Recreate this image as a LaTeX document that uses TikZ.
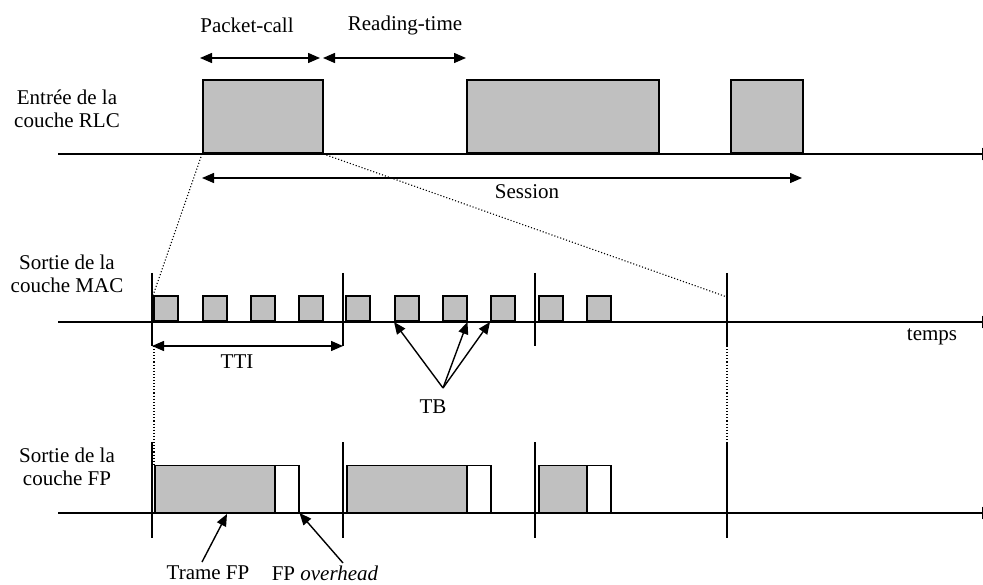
\documentclass[tikz,border=0pt]{standalone}
\usepackage{fontspec}
\setmainfont{Liberation Serif}
\usetikzlibrary{arrows.meta}
\definecolor{pktgray}{HTML}{C0C0C0}
\begin{document}
\begin{tikzpicture}[x=1pt,y=-1pt,
  txt/.style={font=\fontsize{21}{23.5}\selectfont, inner sep=0pt, align=center},
  axisline/.style={line width=1.3pt, -{Triangle[length=12pt,width=12pt]}},
  pkt/.style={draw, line width=1.5pt, fill=pktgray, inner sep=0pt,
    minimum height=73pt, minimum width=#1, anchor=south west},
  tblock/.style={draw, line width=1.5pt, fill=pktgray, inner sep=0pt,
    minimum height=25pt, minimum width=24pt, anchor=south west},
  fpframe/.style={draw, line width=1.5pt, fill=pktgray, inner sep=0pt,
    minimum height=47pt, minimum width=#1, anchor=south west},
  fpover/.style={draw, line width=1.5pt, fill=white, inner sep=0pt,
    minimum height=47pt, minimum width=24pt, anchor=south west},
  tick/.style={line width=1.2pt},
  dim/.style={line width=1.4pt, {Triangle[length=12pt,width=10pt]}-{Triangle[length=12pt,width=10pt]}},
  ptr/.style={line width=1.4pt, -{Triangle[length=12pt,width=10pt]}},
  dots/.style={line width=1.1pt, dotted},
]
\useasboundingbox (0,0) rectangle (983,585);

% ---------- RLC layer input ----------
\node[txt] (lrlc) at (67,109) {Entrée de la\\couche RLC};
\coordinate (ra) at (58,154);
\coordinate (rb) at (994,154);
\draw[axisline] (ra) -- (rb);
\node[pkt=120pt] (p1) at (202,154) {};
\node[pkt=192pt] (p2) at (466,154) {};
\node[pkt=72pt]  (p3) at (730,154) {};

\coordinate (pca) at (200,58);
\coordinate (pcb) at (320,58);
\coordinate (rta) at (323,58);
\coordinate (rtb) at (466,58);
\draw[dim] (pca) -- (pcb);
\draw[dim] (rta) -- (rtb);
\node[txt] (lpc) at (247,25) {Packet-call};
\node[txt] (lrt) at (405,25) {Reading-time};

\coordinate (sa) at (202,178);
\coordinate (sb) at (802,178);
\draw[dim] (sa) -- (sb);
\node[txt] (lses) at (527,192) {Session};

% ---------- MAC layer output ----------
\node[txt] (lmac) at (67,274) {Sortie de la\\couche MAC};
\coordinate (ma) at (58,322);
\coordinate (mb) at (994,322);
\draw[axisline] (ma) -- (mb);
\foreach \x [count=\i] in {152,343,535,727} {
  \coordinate (mt\i) at (\x,273);
  \coordinate (mbt\i) at (\x,346);
  \draw[tick] (mt\i) -- (mbt\i);
}
\foreach \x [count=\i] in {153,202,250,298,345,394,442,490,538,586}
  \node[tblock] (tb\i) at (\x,322) {};

\coordinate (ttia) at (152,346);
\coordinate (ttib) at (343,346);
\draw[dim] (ttia) -- (ttib);
\node[txt] (ltti) at (237,362) {TTI};
\node[txt] (ltemps) at (932,337) {temps};

\node[txt] (ltb) at (433,407) {TB};
\coordinate (tbsrc) at (443,388);
\draw[ptr] (tbsrc) -- (tb6.south west);
\draw[ptr] (tbsrc) -- (tb7.south east);
\draw[ptr] (tbsrc) -- (tb8.south west);

% zoom lines from the packet call down to the MAC frames
\coordinate (zend) at (727,297);
\draw[dots] (p1.south west) -- (tb1.north west);
\draw[dots] (p1.south east) -- (zend);

% ---------- FP layer output ----------
\node[txt] (lfp) at (67,467) {Sortie de la\\couche FP};
\coordinate (fa) at (58,513);
\coordinate (fb) at (994,513);
\draw[axisline] (fa) -- (fb);
\foreach \x [count=\i] in {152,343,535,727} {
  \coordinate (ft\i) at (\x,442);
  \coordinate (fbt\i) at (\x,538);
  \draw[tick] (ft\i) -- (fbt\i);
}
\node[fpframe=120pt] (fp1) at (154,513) {};
\node[fpover] (fo1) at (274,513) {};
\node[fpframe=120pt] (fp2) at (346,513) {};
\node[fpover] (fo2) at (466,513) {};
\node[fpframe=48pt] (fp3) at (538,513) {};
\node[fpover] (fo3) at (586,513) {};

\coordinate (d1) at (154,346);
\coordinate (d2) at (154,466);
\draw[dots] (d1) -- (d2);
\draw[dots] (mbt4) -- (ft4);

\node[txt] (ltrame) at (208,573) {Trame FP};
\node[txt] (lover) at (325,573) {FP \textit{overhead}};
\coordinate (trs) at (202,562);
\coordinate (trt) at (227,514);
\coordinate (ovs) at (343,563);
\draw[ptr] (trs) -- (trt);
\draw[ptr] (ovs) -- (fo1.south east);
\end{tikzpicture}
\end{document}
